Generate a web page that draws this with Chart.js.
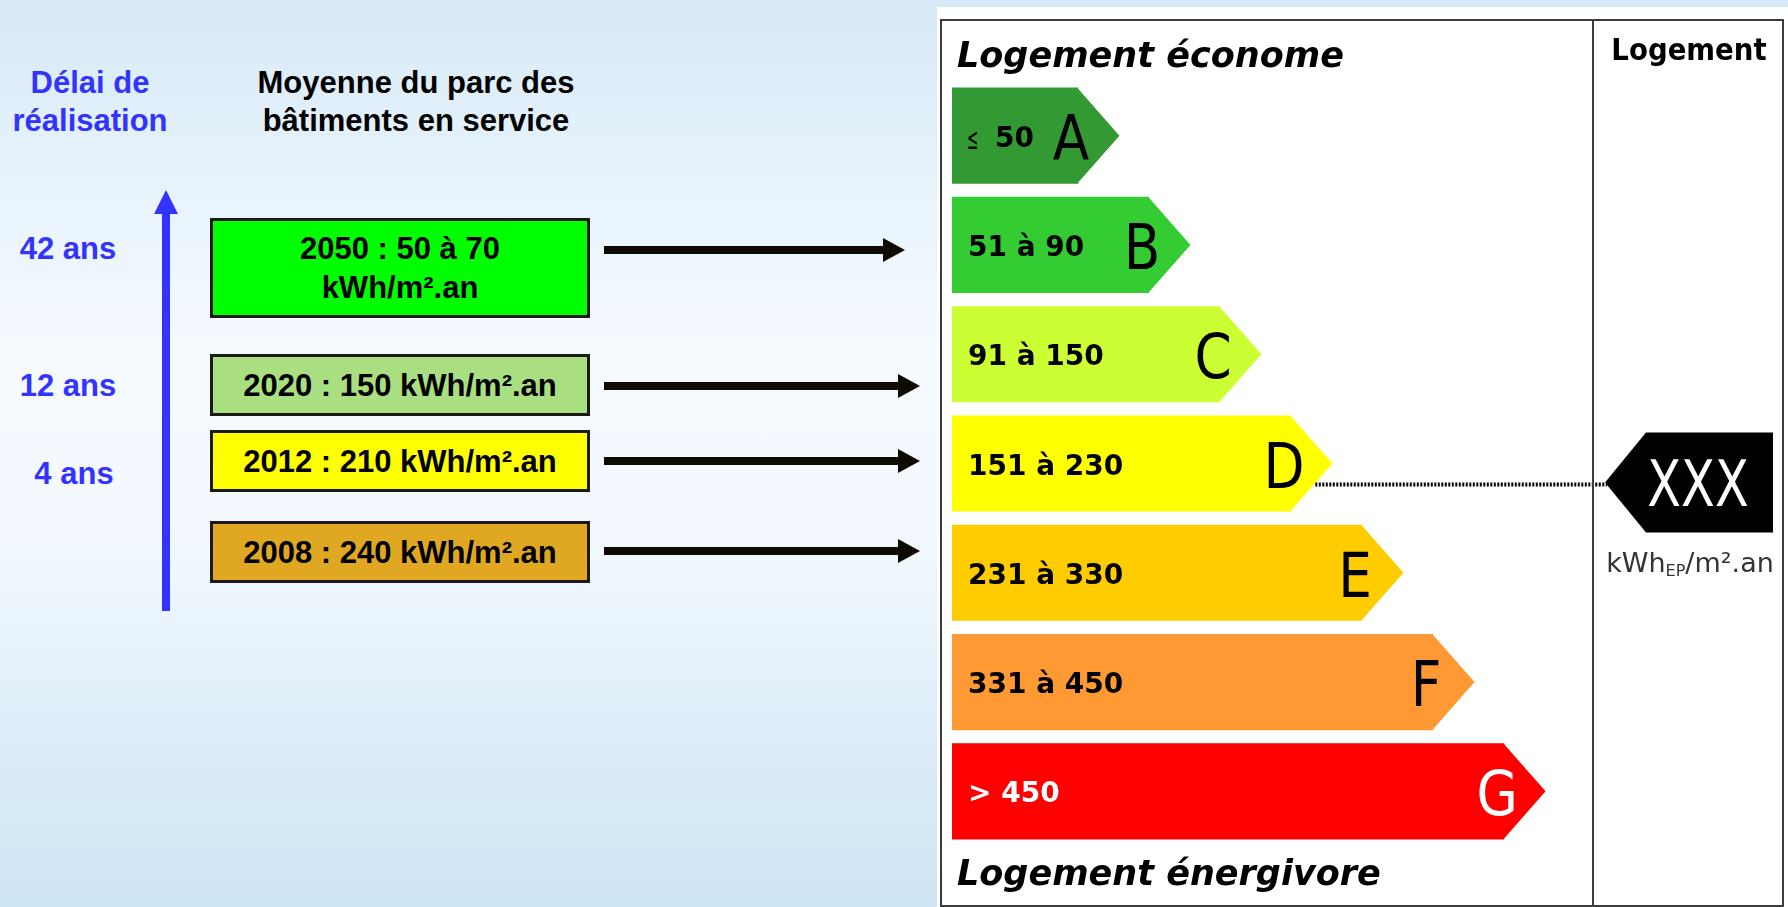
<!DOCTYPE html>
<html lang="fr">
<head>
<meta charset="utf-8">
<title>Diagnostic de performance énergétique</title>
<script src="https://cdn.jsdelivr.net/npm/chart.js@4.4.1/dist/chart.umd.min.js"></script>
<style>
html, body { margin: 0; padding: 0; }
body {
  width: 1788px; height: 907px; position: relative; overflow: hidden;
  background: linear-gradient(to bottom, #d7eaf7 0%, #f5faff 38%, #f3f9fe 58%, #cde4f4 100%);
  font-family: "Liberation Sans", Arial, sans-serif;
}
.abs { position: absolute; }
.titre { font-weight: bold; font-size: 31px; line-height: 38px; text-align: center; white-space: nowrap; }
.bleu { color: #3333ff; }
.boite {
  box-sizing: border-box; border: 3px solid #1a1a1a;
  display: flex; align-items: center; justify-content: center;
  font-weight: bold; font-size: 31px; line-height: 39px; text-align: center; color: #000;
}
#dpe { position: absolute; left: 937px; top: 7px; width: 851px; height: 900px; background: #fff; }
</style>
</head>
<body>

<div id="gauche"></div>

<div id="dpe"><canvas id="graphiqueDPE"></canvas></div>

<script>
// -------- données : parc des bâtiments --------
const annees = ["2050", "2020", "2012", "2008"];
const consommations = ["50 à 70", "150", "210", "240"];
const delais = ["42 ans", "12 ans", "4 ans"];
const couleursParc = ["#00ff00", "#a9df80", "#ffff00", "#e0a822"];

// -------- données : étiquette énergie --------
const classes = ["A", "B", "C", "D", "E", "F", "G"];
const tranches = ["≤ 50", "51 à 90", "91 à 150", "151 à 230", "231 à 330", "331 à 450", "> 450"];
const rangs = [1, 2, 3, 4, 5, 6, 7];
const couleursDPE = ["#339933", "#33cc33", "#ccff33", "#ffff00", "#ffcc00", "#ff9933", "#ff0000"];
const classeLogement = "D";
const valeurLogement = "XXX";

// -------- partie gauche (html) --------

const gauche = document.getElementById("gauche");
let html = "";

html += '<div class="abs titre bleu" style="left:0;top:64px;width:180px">Délai de<br>réalisation</div>';
html += '<div class="abs titre" style="left:255px;top:64px;width:322px">Moyenne du parc des<br>bâtiments en service</div>';

// flèche bleue verticale
html += '<div class="abs" style="left:162px;top:205px;width:8px;height:406px;background:#3333ff"></div>';
html += '<div class="abs" style="left:154px;top:190px;width:0;height:0;border-left:12px solid transparent;border-right:12px solid transparent;border-bottom:24px solid #3333ff"></div>';

// position des boites
const boites = [
  { top: 218, h: 100, yFleche: 250, bout: 905 },
  { top: 354, h: 62, yFleche: 386, bout: 920 },
  { top: 430, h: 62, yFleche: 461, bout: 920 },
  { top: 521, h: 62, yFleche: 551, bout: 920 }
];
const posDelais = [[68, 249], [68, 386], [74, 474]];

annees.forEach((a, i) => {
  const b = boites[i];
  const sep = consommations[i].includes("à") ? "<br>" : " ";
  html += '<div class="abs boite" style="left:210px;top:' + b.top + 'px;width:380px;height:' + b.h +
          'px;background:' + couleursParc[i] + '"><span>' + a + " : " + consommations[i] + sep + "kWh/m².an</span></div>";

  // flèche noire
  html += '<div class="abs" style="left:604px;top:' + (b.yFleche - 4) + 'px;width:' + (b.bout - 22 - 604 + 1) +
          'px;height:8px;background:#0d0a00"></div>';
  html += '<div class="abs" style="left:' + (b.bout - 22) + 'px;top:' + (b.yFleche - 12) +
          'px;width:0;height:0;border-top:12px solid transparent;border-bottom:12px solid transparent;border-left:22px solid #0d0a00"></div>';
});

delais.forEach((d, i) => {
  html += '<div class="abs titre bleu" style="left:' + (posDelais[i][0] - 70) + 'px;top:' + (posDelais[i][1] - 19) +
          'px;width:140px">' + d + "</div>";
});

gauche.innerHTML = html;

// -------- étiquette énergie (Chart.js) --------

function texte(ctx, str, x, y, font, couleur, align, sx) {
  ctx.save();
  ctx.font = font;
  ctx.fillStyle = couleur;
  ctx.textBaseline = "alphabetic";
  ctx.textAlign = align || "left";
  ctx.translate(x, y);
  ctx.scale(sx || 1, 1);
  ctx.fillText(str, 0, 0);
  ctx.restore();
}

const pluginEtiquette = {
  id: "etiquette",
  afterDatasetsDraw(chart) {
    const ctx = chart.ctx;
    const meta = chart.getDatasetMeta(0);
    const R = chart.chartArea.right;
    let yD = 0, xD = 0;

    meta.data.forEach((barre, i) => {
      const p = barre.getProps(["x", "y", "height", "base"], true);
      const h = p.height;
      const pointe = h * 0.43;

      // pointe de la flèche
      ctx.fillStyle = couleursDPE[i];
      ctx.beginPath();
      ctx.moveTo(p.x - 1, p.y - h / 2);
      ctx.lineTo(p.x + pointe, p.y);
      ctx.lineTo(p.x - 1, p.y + h / 2);
      ctx.closePath();
      ctx.fill();

      const c = i === classes.length - 1 ? "#ffffff" : "#000000";
      const xt = p.base + 16;
      if (tranches[i].startsWith("≤")) {
        texte(ctx, "≤", xt - 1, p.y + 13, '30px "DejaVu Sans"', c, "left", 0.45);
        texte(ctx, tranches[i].slice(1).trim(), xt + 27, p.y + 11, 'bold 28px "DejaVu Sans"', c);
      } else {
        texte(ctx, tranches[i], xt, p.y + 11, 'bold 28px "DejaVu Sans"', c);
      }
      texte(ctx, classes[i], p.x - 7, p.y + 24, '62px "DejaVu Sans"', c, "center", 0.86);

      if (classes[i] === classeLogement) {
        yD = p.y + 19;
        xD = p.x + pointe * (1 - 20 / (h / 2));
      }
    });

    // ligne pointillée vers la valeur du logement
    ctx.save();
    ctx.strokeStyle = "#000";
    ctx.lineWidth = 4;
    ctx.setLineDash([2, 1.5]);
    ctx.beginPath();
    ctx.moveTo(xD, yD + 2);
    ctx.lineTo(R + 14, yD + 2);
    ctx.stroke();
    ctx.restore();

    // étiquette noire XXX
    const yT = yD;
    ctx.fillStyle = "#000";
    ctx.beginPath();
    ctx.moveTo(R + 12, yT);
    ctx.lineTo(R + 53, yT - 50);
    ctx.lineTo(R + 180, yT - 50);
    ctx.lineTo(R + 180, yT + 50);
    ctx.lineTo(R + 53, yT + 50);
    ctx.closePath();
    ctx.fill();
    texte(ctx, valeurLogement, R + 105, yT + 23, '64px "DejaVu Sans"', "#fff", "center", 0.77);

    // unité kWhEP/m².an
    ctx.save();
    ctx.font = '27px "DejaVu Sans"';
    const w1 = ctx.measureText("kWh").width;
    const w3 = ctx.measureText("/m².an").width;
    ctx.font = '16px "DejaVu Sans"';
    const w2 = ctx.measureText("EP").width;
    ctx.restore();
    const x0 = R + 97 - (w1 + w2 + w3) / 2;
    const yU = yT + 89;
    texte(ctx, "kWh", x0, yU, '27px "DejaVu Sans"', "#333");
    texte(ctx, "EP", x0 + w1, yU + 4, '16px "DejaVu Sans"', "#333");
    texte(ctx, "/m².an", x0 + w1 + w2, yU, '27px "DejaVu Sans"', "#333");
  },
  afterDraw(chart) {
    const ctx = chart.ctx;
    const R = chart.chartArea.right;
    const L = chart.chartArea.left;

    // cadre
    ctx.save();
    ctx.strokeStyle = "#3c3c3c";
    ctx.lineWidth = 2;
    ctx.strokeRect(4, 13, 842, 886);
    ctx.beginPath();
    ctx.moveTo(R, 13);
    ctx.lineTo(R, 899);
    ctx.stroke();
    ctx.restore();

    texte(ctx, "Logement économe", L + 5, 60, 'italic bold 35px "DejaVu Sans"', "#000");
    texte(ctx, "Logement énergivore", L + 5, 878, 'italic bold 35px "DejaVu Sans"', "#000");
    texte(ctx, "Logement", R + 96, 53, 'bold 30px "DejaVu Sans"', "#000", "center", 0.92);
  }
};

new Chart(document.getElementById("graphiqueDPE"), {
  type: "bar",
  data: {
    labels: classes,
    datasets: [{
      data: rangs,
      base: -0.775,
      backgroundColor: couleursDPE,
      borderWidth: 0,
      categoryPercentage: 1,
      barPercentage: 0.88
    }]
  },
  options: {
    indexAxis: "y",
    responsive: true,
    maintainAspectRatio: false,
    animation: false,
    layout: {
      padding: { left: 15, right: 195, top: 74, bottom: 61 }
    },
    plugins: {
      legend: { display: false },
      tooltip: { enabled: false }
    },
    scales: {
      x: { type: "linear", min: -0.775, max: 8.25, display: false },
      y: { display: false }
    }
  },
  plugins: [pluginEtiquette]
});
</script>
</body>
</html>
